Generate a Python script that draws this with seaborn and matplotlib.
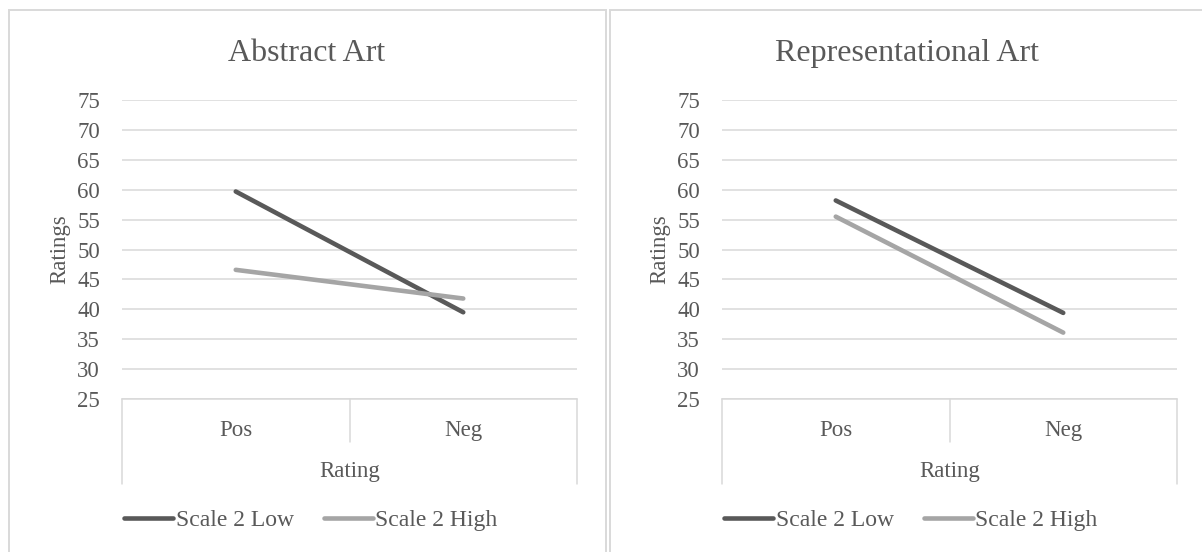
import numpy as np
import pandas as pd
import matplotlib
matplotlib.use("Agg")
import matplotlib.pyplot as plt
from matplotlib.patches import Rectangle
from matplotlib.lines import Line2D
import matplotlib.transforms as mtransforms
import seaborn as sns

# ---- data -------------------------------------------------------------
categories = ["Pos", "Neg"]
series_names = ["Scale 2 Low", "Scale 2 High"]
panel_titles = ["Abstract Art", "Representational Art"]

abstract_low = [59.7, 39.5]
abstract_high = [46.6, 41.8]
represent_low = [58.2, 39.4]
represent_high = [55.5, 36.1]

y_ticks = [25, 30, 35, 40, 45, 50, 55, 60, 65, 70, 75]
x_title = "Rating"
y_title = "Ratings"

panel_values = [
    {"Scale 2 Low": abstract_low, "Scale 2 High": abstract_high},
    {"Scale 2 Low": represent_low, "Scale 2 High": represent_high},
]

# ---- style ------------------------------------------------------------
sns.set_theme(style="white")
plt.rcParams["font.family"] = ["Liberation Serif", "DejaVu Serif"]

TEXT = "#595959"
GRID = "#D9D9D9"
palette = {"Scale 2 Low": "#595959", "Scale 2 High": "#A5A5A5"}
FS = 16.5
LEG_FS = 17
LW = 3.3

W, H = 1202, 552
DPI = 100
fig = plt.figure(figsize=(W / DPI, H / DPI), dpi=DPI)
fig.patch.set_facecolor("white")


def fx(px):
    return px / W


def fy(py):
    return 1 - py / H


def pt(px):
    return px * 72 / DPI


# chart frames
for x0, x1 in [(9, 605.5), (609.5, 1210)]:
    fig.patches.append(Rectangle((fx(x0), fy(570)), fx(x1 - x0), fy(10) - fy(570),
                                 transform=fig.transFigure, fill=False,
                                 edgecolor=GRID, linewidth=1.4, zorder=0))

panel_shift = [0, 600]
ax_left, ax_right, ax_top, ax_bot = 122, 577, 100, 399
ax_w = ax_right - ax_left
ax_h = ax_bot - ax_top

for i, (title, vals) in enumerate(zip(panel_titles, panel_values)):
    dx = panel_shift[i]
    ax = fig.add_axes([fx(ax_left + dx), fy(ax_bot), fx(ax_w), fy(ax_top) - fy(ax_bot)])
    ax.set_facecolor("none")

    df = pd.DataFrame([
        {"Rating": c, "value": v, "series": s}
        for s in series_names for c, v in zip(categories, vals[s])
    ])
    sns.lineplot(data=df, x="Rating", y="value", hue="series", hue_order=series_names,
                 palette=palette, sort=False, linewidth=LW, legend=False, ax=ax,
                 solid_capstyle="round")

    ax.set_xlim(-0.5, 1.5)
    ax.set_ylim(25, 75)
    ax.set_yticks(y_ticks)
    ax.yaxis.grid(True, color=GRID, linewidth=1.1)
    ax.xaxis.grid(False)
    for side in ["top", "right", "left"]:
        ax.spines[side].set_visible(False)
    ax.spines["bottom"].set_color(GRID)
    ax.spines["bottom"].set_linewidth(1.1)
    ax.set_axisbelow(True)

    ax.tick_params(axis="y", length=0, pad=pt(22), labelsize=FS, labelcolor=TEXT)
    ax.set_xticks([0, 1])
    ax.set_xticklabels(categories)
    ax.tick_params(axis="x", length=0, pad=pt(37), labelsize=FS, labelcolor=TEXT)
    for lab in ax.get_xticklabels():
        lab.set_verticalalignment("baseline")

    ax.set_ylabel(y_title, fontsize=FS, color=TEXT, va="baseline")
    ax.yaxis.set_label_coords(-(ax_left - 65) / ax_w, 0.5)
    ax.set_xlabel(x_title, fontsize=FS, color=TEXT, va="baseline")
    ax.xaxis.set_label_coords(0.5, -78 / ax_h)

    # category box below the plot area
    trans = mtransforms.blended_transform_factory(ax.transData, ax.transAxes)
    for xpos, depth in [(-0.5, 85), (0.5, 43), (1.5, 85)]:
        ax.add_line(Line2D([xpos, xpos], [0, -depth / ax_h], transform=trans,
                           color=GRID, linewidth=1.1, clip_on=False))

    fig.text(fx(307 + dx), fy(61), title, ha="center", va="baseline",
             fontsize=23, color=TEXT)

    handles = [Line2D([], [], color=palette[s], linewidth=LW, solid_capstyle="round")
               for s in series_names]
    fig.legend(handles, series_names, loc="center",
               bbox_to_anchor=(fx(311 + dx), fy(520)), bbox_transform=fig.transFigure,
               ncol=2, frameon=False, fontsize=LEG_FS, labelcolor=TEXT,
               handlelength=2.05, handletextpad=0.12, columnspacing=1.3,
               borderpad=0, borderaxespad=0)

fig.savefig("out.png", dpi=DPI, facecolor="white")
